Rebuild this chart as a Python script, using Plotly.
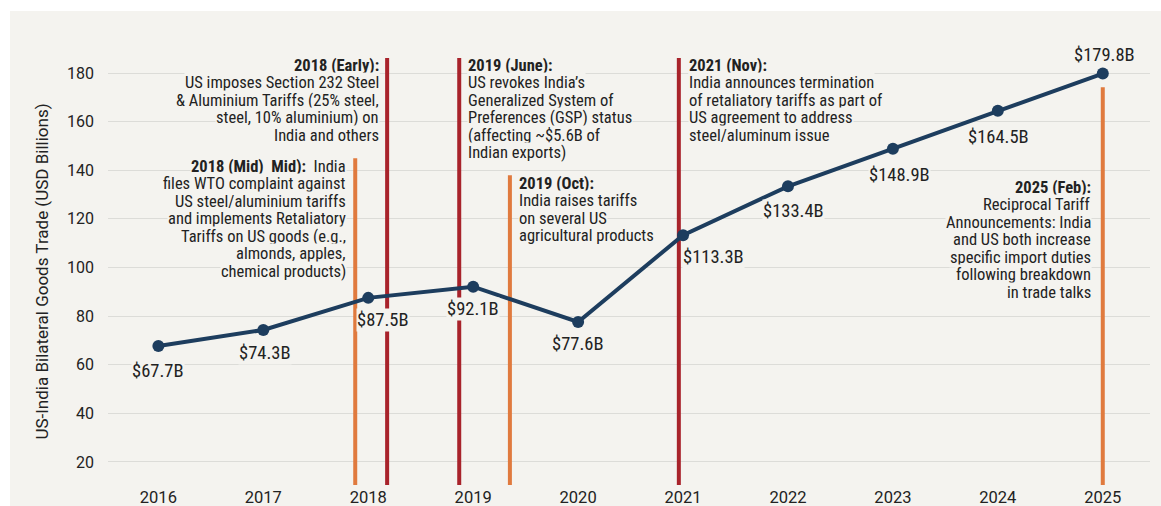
import plotly.graph_objects as go

# ---------------- data ----------------
years = [2016, 2017, 2018, 2019, 2020, 2021, 2022, 2023, 2024, 2025]
trade = [67.7, 74.3, 87.5, 92.1, 77.6, 113.3, 133.4, 148.9, 164.5, 179.8]
value_labels = [f"${v}B" for v in trade]

event_x = [2017.876, 2018.18, 2018.867, 2019.35, 2020.96, 2025.0]
event_top = [145.0, None, None, 138.0, None, 174.2]   # None = full height
event_kind = ["mid", "major", "major", "mid", "major", "mid"]
event_title = ["2018 (Mid)  Mid):", "2018 (Early):", "2019 (June):",
               "2019 (Oct):", "2021 (Nov):", "2025 (Feb):"]
event_body = [
    ["India", "files WTO complaint against", "US steel/aluminium tariffs",
     "and implements Retaliatory", "Tariffs on US goods (e.g.,",
     "almonds, apples,", "chemical products)"],
    ["US imposes Section 232 Steel", "& Aluminium Tariffs (25% steel,",
     "steel, 10% aluminium) on", "India and others"],
    ["US revokes India’s", "Generalized System of", "Preferences (GSP) status",
     "(affecting ~$5.6B of", "Indian exports)"],
    ["India raises tariffs", "on several US", "agricultural products"],
    ["India announces termination", "of retaliatory tariffs as part of",
     "US agreement to address", "steel/aluminum issue"],
    ["Reciprocal Tariff", "Announcements: India", "and US both increase",
     "specific import duties", "following breakdown", "in trade talks"],
]

y_ticks = [20, 40, 60, 80, 100, 120, 140, 160, 180]
x_ticks = years

# ---------------- layout / style (pixels) ----------------
W, H = 1161, 506
ML, MR, MT, MB = 108, 11, 58, 21
PW, PH = W - ML - MR, H - MT - MB
# event text: first-line centre (px below plot top), side, x offset from line
ev_text_top = [108, 7, 7, 125, 7, 129]
ev_side = ["left", "left", "right", "right", "right", "left"]
ev_dx = [-8, -7, 8, 8, 9, -11]
LINE_H = 17.5
# value label offsets (px)
label_dx = [0, 2, 15, 0, 0, 30, 6, 7, 1, 2]
label_dy = [-25, -23, -22, -22, -22, -22, -25, -26, -26, 19]

BG = "#f4f3ef"
NAVY = "#1d3d5e"
RED = "#a8232b"
ORANGE = "#e07a3e"
GRID = "#dcdcd8"
TXT = "#222222"
COND = "Roboto Condensed, Liberation Sans Narrow, DejaVu Sans Condensed, Roboto, sans-serif"
REG = "Roboto, sans-serif"
YMIN, YMAX = 10.5, 186.2

fig = go.Figure()
fig.add_trace(go.Scatter(
    x=years, y=trade, mode="lines+markers",
    line=dict(color=NAVY, width=4),
    marker=dict(color=NAVY, size=12),
    hoverinfo="skip", showlegend=False, cliponaxis=False,
))

shapes = []
# white border of the original image (top and left)
shapes.append(dict(type="rect", xref="paper", yref="paper",
                   x0=-ML / PW, x1=(W - ML) / PW,
                   y0=1 + (MT - 11) / PH, y1=1 + MT / PH,
                   fillcolor="white", line_width=0, layer="below"))
shapes.append(dict(type="rect", xref="paper", yref="paper",
                   x0=-ML / PW, x1=(10 - ML) / PW,
                   y0=-MB / PH, y1=1 + MT / PH,
                   fillcolor="white", line_width=0, layer="below"))
for x, top, kind in zip(event_x, event_top, event_kind):
    col = RED if kind == "major" else ORANGE
    shapes.append(dict(type="line", xref="x", yref="y",
                       x0=x, x1=x, y0=YMIN, y1=(YMAX if top is None else top),
                       line=dict(color=col, width=4), layer="between"))

annotations = []
for x, y, t, dx, dy in zip(years, trade, value_labels, label_dx, label_dy):
    annotations.append(dict(x=x, y=y, text=t, showarrow=False,
                            xshift=dx, yshift=dy, bgcolor=BG, borderpad=0,
                            font=dict(family=COND, size=18.5, color=TXT)))

for x, top_px, title, body, side, dx in zip(event_x, ev_text_top, event_title,
                                            event_body, ev_side, ev_dx):
    if title.startswith("2018 (Mid)"):
        lines = [f"<b>{title}</b>  {body[0]}"] + body[1:]
    else:
        lines = [f"<b>{title}</b>"] + body
    for i, ln in enumerate(lines):
        annotations.append(dict(
            x=x, xref="x", y=1 - top_px / PH, yref="paper",
            text=ln, showarrow=False,
            xanchor="right" if side == "left" else "left",
            yanchor="middle", xshift=dx, yshift=-i * LINE_H,
            bgcolor=BG, borderpad=0,
            font=dict(family=COND, size=16.5, color=TXT)))

fig.update_layout(
    width=W, height=H,
    margin=dict(l=ML, r=MR, t=MT, b=MB, autoexpand=False),
    paper_bgcolor=BG, plot_bgcolor=BG,
    shapes=shapes, annotations=annotations,
    font=dict(family=REG, color=TXT),
    xaxis=dict(range=[2015.52, 2025.45], tickvals=x_ticks,
               ticktext=[str(v) for v in x_ticks], showgrid=False,
               zeroline=False, showline=False, ticks="", automargin=False,
               ticklabelstandoff=0,
               tickfont=dict(family=REG, size=16.5, color=TXT)),
    yaxis=dict(range=[YMIN, YMAX], tickvals=y_ticks, showgrid=True,
               gridcolor=GRID, gridwidth=1, zeroline=False, showline=False,
               ticks="", ticklabelstandoff=13, automargin=False,
               tickfont=dict(family=REG, size=16, color=TXT),
               title=dict(text="US-India Bilateral Goods Trade (USD Billions)",
                          font=dict(family=REG, size=17, color=TXT),
                          standoff=14)),
)

fig.write_html("out.html")
